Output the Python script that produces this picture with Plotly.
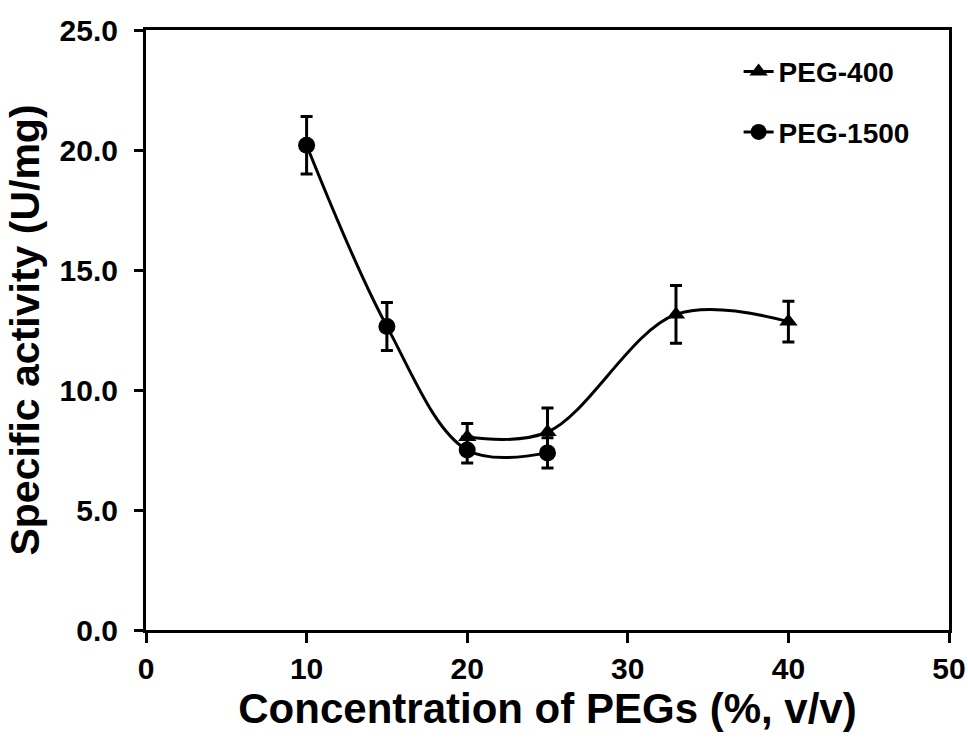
import plotly.graph_objects as go

# PEG-1500 (circles)
x_1500 = [10, 15, 20, 25]
y_1500 = [20.2, 12.65, 7.5, 7.38]
e_1500 = [1.2, 1.0, 0.54, 0.63]

# PEG-400 (triangles)
x_400 = [20, 25, 33, 40]
y_400 = [8.04, 8.25, 13.15, 12.85]
e_400 = [0.56, 1.0, 1.2, 0.85]

FONT = "Liberation Sans, Arial, sans-serif"

fig = go.Figure()
fig.add_trace(go.Scatter(
    x=x_400, y=y_400, name="PEG-400", mode="lines+markers",
    line=dict(color="black", width=3, shape="spline", smoothing=1),
    marker=dict(symbol="triangle-up", size=16, color="black"),
    error_y=dict(type="data", array=e_400, color="black", thickness=3, width=6),
    legendgroup="a",
))
fig.add_trace(go.Scatter(
    x=x_1500, y=y_1500, name="PEG-1500", mode="lines+markers",
    line=dict(color="black", width=3, shape="spline", smoothing=1),
    marker=dict(symbol="circle", size=17, color="black"),
    error_y=dict(type="data", array=e_1500, color="black", thickness=3, width=6),
    legendgroup="b",
))

fig.update_layout(
    width=968, height=742,
    margin=dict(l=146, r=19, t=30, b=112, autoexpand=False),
    paper_bgcolor="white", plot_bgcolor="white",
    font=dict(family=FONT, color="black", weight="bold"),
    legend=dict(x=0.738, y=0.972, xanchor="left", yanchor="top",
                font=dict(size=28, family=FONT, weight="bold"),
                tracegroupgap=21, traceorder="grouped",
                bgcolor="rgba(0,0,0,0)"),
    showlegend=True,
)
fig.update_xaxes(
    range=[0, 50], dtick=10, tick0=0, automargin=False,
    showline=True, linecolor="black", linewidth=3, mirror=True,
    ticks="outside", ticklen=10, tickwidth=3, tickcolor="black",
    showgrid=False, zeroline=False,
    tickfont=dict(size=30, family=FONT, weight="bold"),
    title=dict(text="Concentration of PEGs (%, v/v)",
               font=dict(size=42, family=FONT, weight="bold"), standoff=1),
)
fig.update_yaxes(
    range=[0, 25], dtick=5, tick0=0, tickformat=".1f", automargin=False,
    showline=True, linecolor="black", linewidth=3, mirror=True,
    ticks="outside", ticklen=9, tickwidth=3, tickcolor="black",
    showgrid=False, zeroline=False,
    tickfont=dict(size=30, family=FONT, weight="bold"),
    ticklabelstandoff=10,
    title=dict(text="Specific activity (U/mg)",
               font=dict(size=41, family=FONT, weight="bold"), standoff=8),
)

fig.write_html("out.html")
